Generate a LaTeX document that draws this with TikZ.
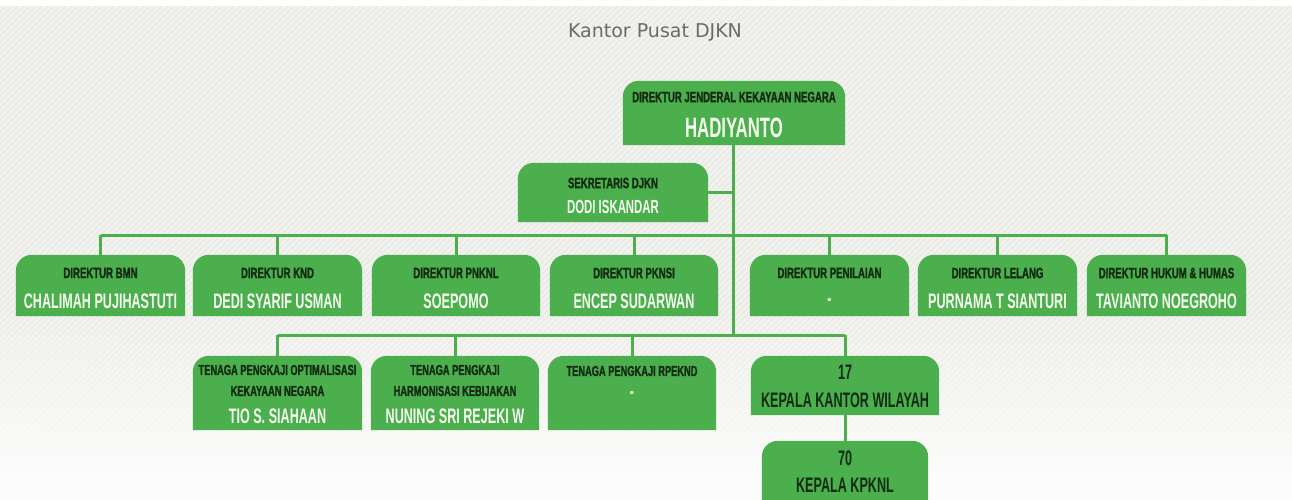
\documentclass[tikz,border=0pt]{standalone}
\usepackage{fontspec}
\newfontfamily\rolefont[FakeStretch=0.64,FakeBold=1.2]{Liberation Sans Bold}
\newfontfamily\namefont[FakeStretch=0.6]{Liberation Sans Bold}
\newfontfamily\titlefont{DejaVu Sans}
\definecolor{boxg}{HTML}{4CAF4D}
\definecolor{lineg}{HTML}{4CAF4D}
\definecolor{roletext}{HTML}{132B13}
\definecolor{nametext}{HTML}{F5FBEF}
\definecolor{titlegray}{HTML}{6B6B6B}
\definecolor{bgc}{HTML}{F1F1EE}
\definecolor{hatchc}{HTML}{E4E4E0}
\tikzset{
  bx/.style={draw=none, inner sep=0pt},
  conn/.style={draw=lineg, line width=3pt},
  role/.style={inner sep=0pt, text=roletext, font=\rolefont\fontsize{15}{15}\selectfont},
  rolesm/.style={inner sep=0pt, text=roletext, font=\rolefont\fontsize{14.5}{14.5}\selectfont},
  nm/.style={inner sep=0pt, text=nametext, font=\namefont\fontsize{21}{21}\selectfont},
  nmbig/.style={inner sep=0pt, text=nametext, font=\namefont\fontsize{28}{28}\selectfont},
  nmdark/.style={inner sep=0pt, text=roletext, font=\namefont\fontsize{21}{21}\selectfont},
  hatch/.style={draw=hatchc, line width=0.7pt},
}
\newcommand\obox[5]{\node[bx, minimum width={(#4-#2)*1pt}, minimum height={(#5-#3)*1pt}] (#1) at ({(#2+#4)/2},{(#3+#5)/2}) {};}
\begin{document}
\begin{tikzpicture}[x=1pt,y=-1pt]
\useasboundingbox (0,0) rectangle (1292,500);
% background
\begin{scope}
\clip (0,0) rectangle (1292,500);
\fill[bgc] (0,0) rectangle (1292,500);
\foreach \i in {-500,-494,...,1292} \draw[hatch] (\i,500) -- (\i+500,0);
\foreach \k in {0,...,39} \fill[white, opacity={0.92*\k/39}] (0,{300+\k*5}) rectangle (1292,{305+\k*5});
\fill[white] (0,0) rectangle (1292,6);
\end{scope}

\node[font=\titlefont\fontsize{19}{19}\selectfont, text=titlegray, inner sep=0pt] (title) at (655,32) {Kantor Pusat DJKN};

% boxes
\obox{dj}{623}{81}{845}{145}
\obox{sek}{518}{163}{708}{222}
\obox{bmn}{16}{255}{185}{316}
\obox{knd}{193}{255}{362}{316}
\obox{pknl}{372}{255}{540}{316}
\obox{pknsi}{550}{255}{718}{316}
\obox{pen}{750}{255}{909}{316}
\obox{lel}{918}{255}{1077}{316}
\obox{huk}{1087}{255}{1246}{316}
\obox{opt}{193}{356}{362}{430}
\obox{harm}{371}{356}{539}{430}
\obox{rpe}{548}{356}{716}{430}
\obox{kanwil}{751}{356}{939}{415}
\obox{kpknl}{762}{441}{928}{515}

\begin{scope}
\clip (0,0) rectangle (1292,500);
\foreach \n in {dj,sek,bmn,knd,pknl,pknsi,pen,lel,huk,opt,harm,rpe,kanwil,kpknl}
  \fill[boxg, rounded corners=16pt] (\n.south west) -- (\n.north west) -- (\n.north east) [sharp corners] -- (\n.south east) -- cycle;
\end{scope}

% texts
\node[role] (dj-r) at (734,97) {DIREKTUR JENDERAL KEKAYAAN NEGARA};
\node[nmbig] (dj-n) at (734,128) {HADIYANTO};
\node[role] (sek-r) at (613,183) {SEKRETARIS DJKN};
\node[nm, font=\namefont\fontsize{19}{19}\selectfont] (sek-n) at (613,207) {DODI ISKANDAR};

\node[role] (bmn-r) at (100.5,273) {DIREKTUR BMN};
\node[nm] (bmn-n) at (100.5,301) {CHALIMAH PUJIHASTUTI};
\node[role] (knd-r) at (277.5,273) {DIREKTUR KND};
\node[nm] (knd-n) at (277.5,301) {DEDI SYARIF USMAN};
\node[role] (pknl-r) at (456,273) {DIREKTUR PNKNL};
\node[nm] (pknl-n) at (456,301) {SOEPOMO};
\node[role] (pknsi-r) at (634,273) {DIREKTUR PKNSI};
\node[nm] (pknsi-n) at (634,301) {ENCEP SUDARWAN};
\node[role] (pen-r) at (829.5,273) {DIREKTUR PENILAIAN};
\node[nm] (pen-n) at (829.5,302) {-};
\node[role] (lel-r) at (997.5,273) {DIREKTUR LELANG};
\node[nm] (lel-n) at (997.5,301) {PURNAMA T SIANTURI};
\node[role] (huk-r) at (1166.5,273) {DIREKTUR HUKUM \& HUMAS};
\node[nm] (huk-n) at (1166.5,301) {TAVIANTO NOEGROHO};

\node[rolesm] (opt-r1) at (277.5,370) {TENAGA PENGKAJI OPTIMALISASI};
\node[rolesm] (opt-r2) at (277.5,391) {KEKAYAAN NEGARA};
\node[nm] (opt-n) at (277.5,416) {TIO S. SIAHAAN};
\node[rolesm] (harm-r1) at (455,370) {TENAGA PENGKAJI};
\node[rolesm] (harm-r2) at (455,391) {HARMONISASI KEBIJAKAN};
\node[nm] (harm-n) at (455,416) {NUNING SRI REJEKI W};
\node[rolesm] (rpe-r) at (632,371) {TENAGA PENGKAJI RPEKND};
\node[nm] (rpe-n) at (632,395) {-};
\node[nmdark] (kanwil-a) at (845,372) {17};
\node[nmdark] (kanwil-b) at (845,400) {KEPALA KANTOR WILAYAH};
\node[nmdark] (kpknl-a) at (845,458) {70};
\node[nmdark] (kpknl-b) at (845,485) {KEPALA KPKNL};

% connectors
\coordinate (bus1) at (733,235);
\coordinate (bus2) at (733,335);
\draw[conn] (dj.south -| bus1) -- (bus2);
\draw[conn] (sek.east) -- (sek.east -| bus1);
\draw[conn] (bus1 -| bmn.north) -- (bus1 -| huk.north);
\foreach \n in {bmn,knd,pknl,pknsi,pen,lel,huk} \draw[conn] (bus1 -| \n.north) -- (\n.north);
\draw[conn] (bus2 -| opt.north) -- (bus2 -| kanwil.north);
\foreach \n in {opt,harm,rpe,kanwil} \draw[conn] (bus2 -| \n.north) -- (\n.north);
\draw[conn] (kanwil.south) -- (kpknl.north);
\end{tikzpicture}
\end{document}
